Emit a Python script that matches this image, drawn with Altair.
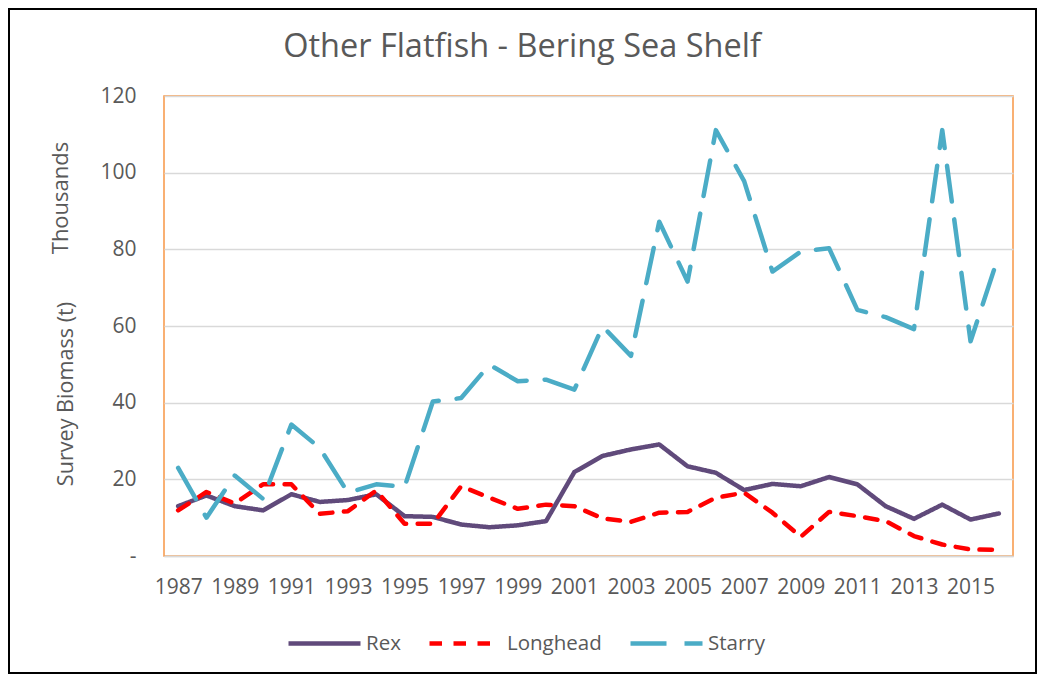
import altair as alt
import pandas as pd

years = list(range(1987, 2017))
series_names = ["Rex", "Longhead", "Starry"]
series_colors = ["#604A7B", "#FF0000", "#4BACC6"]

rex = [13.0, 15.8, 13.0, 11.9, 16.1, 14.1, 14.6, 16.1, 10.4, 10.2,
       8.2, 7.5, 8.0, 9.1, 21.9, 26.1, 27.8, 29.1, 23.4, 21.7,
       17.2, 18.8, 18.2, 20.6, 18.7, 13.0, 9.7, 13.4, 9.5, 11.1]
longhead = [11.9, 16.7, 13.7, 18.7, 18.7, 11.0, 11.7, 17.1, 8.4, 8.4,
            18.2, 15.2, 12.3, 13.4, 13.0, 9.8, 8.9, 11.3, 11.5, 15.2,
            16.5, 11.3, 5.0, 11.5, 10.4, 9.1, 5.2, 3.0, 1.7, 1.6]
starry = [23.0, 10.0, 21.0, 14.9, 34.3, 28.2, 16.5, 18.7, 18.0, 40.3,
          41.2, 49.9, 45.6, 46.0, 43.4, 59.9, 52.2, 87.2, 71.6, 111.1,
          97.8, 74.2, 79.4, 80.3, 64.2, 62.3, 59.2, 111.1, 56.0, 78.5]

label_years = years[::2]
y_ticks = [0, 20, 40, 60, 80, 100, 120]

title_text = "Other Flatfish - Bering Sea Shelf"
y_title = "Survey Biomass (t)"
unit_text = "Thousands"

rows = []
for name, vals in zip(series_names, [rex, longhead, starry]):
    for yr, v in zip(years, vals):
        rows.append({"year": yr, "value": v, "series": name})
df = pd.DataFrame(rows)

TXT = "#595959"
FONT = "Open Sans"

legend = alt.Legend(
    title=None, orient="none", direction="horizontal",
    legendX=122, legendY=509,
    symbolType="stroke", symbolSize=5184, symbolStrokeWidth=4.5,
    labelFontSize=20.5, labelColor=TXT, labelFont=FONT,
    columnPadding=19, labelOffset=3,
)

lines = alt.Chart(df).mark_line(strokeWidth=4.5, strokeCap="round", strokeJoin="round").encode(
    x=alt.X("year:O", scale=alt.Scale(type="point", padding=0.5),
            axis=alt.Axis(values=label_years, title=None, ticks=False, labelPadding=20,
                          labelFontSize=21, labelColor=TXT, labelFont=FONT, labelAngle=0,
                          domainColor="#d9d9d9", domainWidth=1.5, grid=False)),
    y=alt.Y("value:Q", scale=alt.Scale(domain=[0, 120]),
            axis=alt.Axis(values=y_ticks, title=None, grid=True, gridColor="#d9d9d9",
                          gridWidth=1.5, ticks=False, domain=False, labelPadding=28,
                          labelFontSize=21, labelColor=TXT, labelFont=FONT,
                          labelExpr="datum.value == 0 ? '-' : datum.label")),
    color=alt.Color("series:N", scale=alt.Scale(domain=series_names, range=series_colors),
                    legend=legend),
    strokeDash=alt.StrokeDash("series:N",
                              scale=alt.Scale(domain=series_names,
                                              range=[[1, 0], [12.5, 11.5], [36, 18]]),
                              legend=legend),
)

one = pd.DataFrame({"t": [title_text], "u": [unit_text], "y": [y_title]})

title = alt.Chart(one).mark_text(font=FONT, fontSize=32.5, color=TXT, align="center",
                                 baseline="alphabetic").encode(
    text="t:N", x=alt.value(358), y=alt.value(-39))
unit = alt.Chart(one).mark_text(font=FONT, fontSize=22, color=TXT, align="center",
                                baseline="alphabetic", angle=270).encode(
    text="u:N", x=alt.value(-96), y=alt.value(102))
ytitle = alt.Chart(one).mark_text(font=FONT, fontSize=21.6, color=TXT, align="center",
                                  baseline="alphabetic", angle=270).encode(
    text="y:N", x=alt.value(-91), y=alt.value(298))
frame = alt.Chart(one).mark_rect(fillOpacity=0, stroke="black", strokeWidth=2).encode(
    x=alt.value(-155), x2=alt.value(872), y=alt.value(-87), y2=alt.value(577))

chart = alt.layer(frame, lines, title, unit, ytitle).properties(
    width=849, height=460,
    autosize=alt.AutoSizeParams(type="none"),
    padding={"left": 156, "top": 88, "right": 24, "bottom": 118},
).configure(background="white").configure_view(stroke="#F79646", strokeWidth=1.5)

chart.save("out.html", embed_options={"renderer": "svg", "actions": False})
